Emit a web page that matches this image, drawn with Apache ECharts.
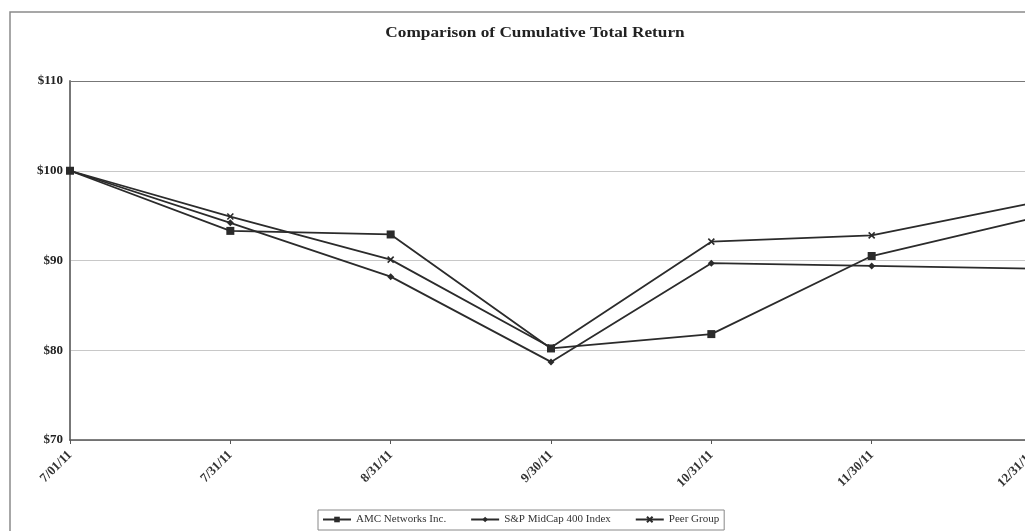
<!DOCTYPE html>
<html>
<head>
<meta charset="utf-8">
<script src="https://cdn.jsdelivr.net/npm/echarts@6/dist/echarts.min.js"></script>
<style>
html,body{margin:0;padding:0;background:#fff;overflow:hidden;}
#chart{width:1045px;height:531px;}
</style>
</head>
<body>
<div id="chart"></div>
<script>
var categories = ['7/01/11','7/31/11','8/31/11','9/30/11','10/31/11','11/30/11','12/31/11'];
var amc = [100, 93.3, 92.9, 80.2, 81.8, 90.5, 94.7];
var sp400 = [100, 94.2, 88.2, 78.7, 89.7, 89.4, 89.1];
var peer = [100, 94.9, 90.1, 80.3, 92.1, 92.8, 96.4];
var seriesNames = ['AMC Networks Inc.', 'S&P MidCap 400 Index', 'Peer Group'];

var chart = echarts.init(document.getElementById('chart'));
var serif = '"Liberation Serif", "DejaVu Serif", serif';
var ink = '#2b2b2b';
var xMark = 'path://M0,0L10,10M10,0L0,10';

function mk(name, data, symbol, size) {
  return {
    name: name, type: 'line', data: data,
    symbol: symbol, symbolSize: size,
    showSymbol: true,
    lineStyle: {color: ink, width: 1.8},
    itemStyle: {color: ink, borderColor: ink, borderWidth: symbol === xMark ? 1.6 : 0},
    emphasis: {disabled: true},
    animation: false
  };
}

chart.setOption({
  animation: false,
  graphic: [{
    type: 'rect', shape: {x: 10, y: 12, width: 1060, height: 540},
    style: {fill: 'none', stroke: '#8a8a8a', lineWidth: 1.5}, silent: true
  }, {
    type: 'text', x: 535, y: 33, scaleX: 1.15, silent: true,
    style: {
      text: 'Comparison of Cumulative Total Return',
      x: 0, y: 0, align: 'center', verticalAlign: 'middle',
      font: 'bold 15px "Liberation Serif", serif', fill: '#222'
    }
  }],
  grid: {left: 70, right: 13, top: 81, bottom: 91, containLabel: false},
  legend: {
    data: seriesNames,
    left: 318, top: 510,
    padding: [4, 5, 5, 4],
    itemGap: 24, itemWidth: 28, itemHeight: 7,
    borderColor: '#888', borderWidth: 1,
    textStyle: {fontFamily: serif, fontSize: 11, color: '#333'}
  },
  xAxis: {
    type: 'category', data: categories, boundaryGap: false,
    axisLine: {lineStyle: {color: '#555', width: 1.5}},
    axisTick: {show: true, alignWithLabel: true, length: 4, lineStyle: {color: '#555'}},
    axisLabel: {rotate: 45, fontFamily: serif, fontSize: 13, fontWeight: 'bold', color: '#333', margin: 13},
    splitLine: {show: false}
  },
  yAxis: {
    type: 'value', min: 70, max: 110, interval: 10,
    axisLine: {show: true, lineStyle: {color: '#777', width: 2}},
    axisTick: {show: false},
    axisLabel: {formatter: '${value}', fontFamily: serif, fontSize: 13, fontWeight: 'bold', color: '#222', margin: 7},
    splitLine: {show: true, lineStyle: {color: ['#c8c8c8','#c8c8c8','#c8c8c8','#c8c8c8','#777'], width: 1}}
  },
  series: [
    mk(seriesNames[0], amc, 'rect', 8),
    mk(seriesNames[1], sp400, 'diamond', 7),
    mk(seriesNames[2], peer, xMark, 6)
  ]
});
</script>
</body>
</html>
